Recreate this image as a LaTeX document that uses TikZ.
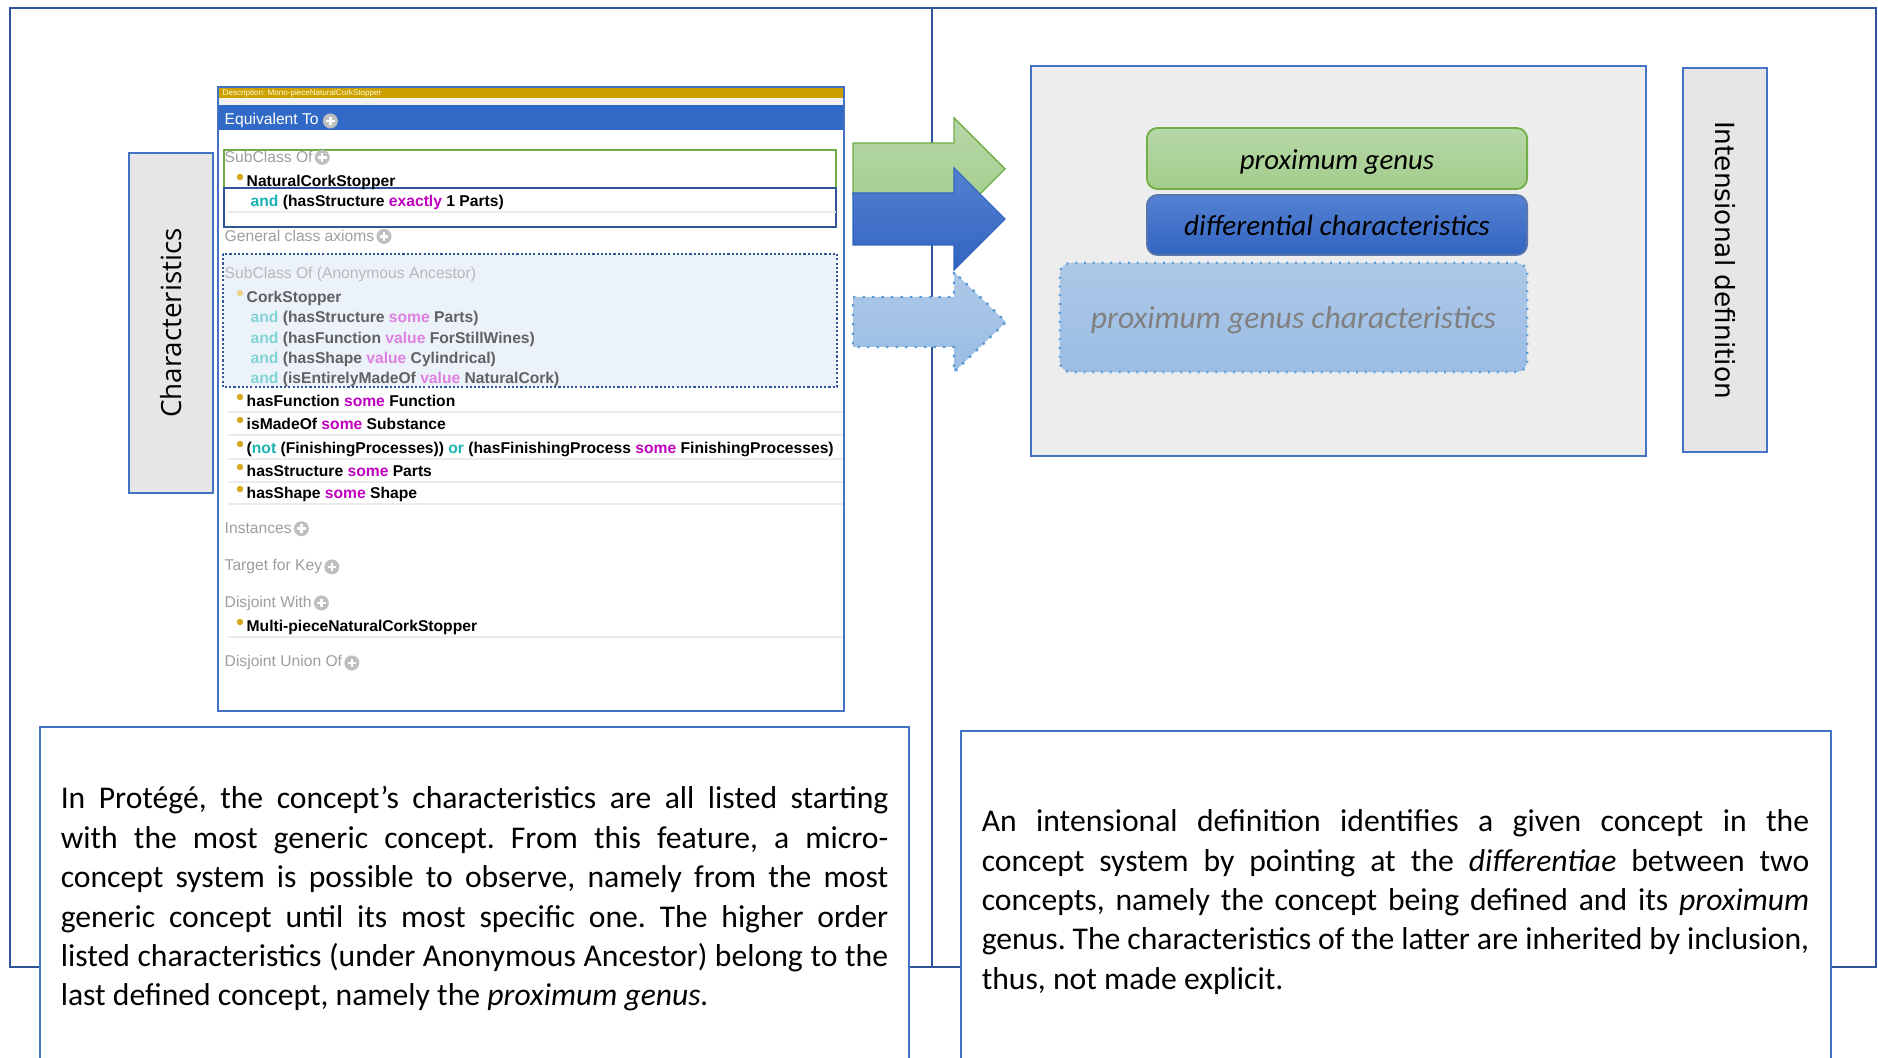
\documentclass[tikz,border=0pt]{standalone}
\usepackage{fontspec}
\setmainfont{Carlito}
\newfontfamily\owlfont{Liberation Sans}
\newfontfamily\lblfont{Open Sans}
\newfontfamily\deffont{DejaVu Sans}
\usetikzlibrary{calc}
\frenchspacing
\definecolor{figNavy}{RGB}{47,85,151}
\definecolor{figBlue}{RGB}{68,114,196}
\definecolor{figGreen}{RGB}{112,173,71}
\definecolor{figGold}{RGB}{204,160,0}
\definecolor{figBar}{RGB}{49,105,198}
\definecolor{figGrey}{RGB}{231,230,230}
\definecolor{figPanel}{RGB}{237,237,237}
\definecolor{figDots}{RGB}{91,155,213}
\definecolor{ancFill}{RGB}{235,242,250}
\definecolor{owlMag}{RGB}{192,0,192}
\definecolor{owlTeal}{RGB}{27,178,178}
\definecolor{owlDot}{RGB}{214,165,24}
\definecolor{arrG1}{RGB}{182,215,168}
\definecolor{arrG2}{RGB}{163,205,138}
\definecolor{arrB1}{RGB}{84,129,210}
\definecolor{arrB2}{RGB}{50,100,192}
\definecolor{arrL1}{RGB}{173,200,232}
\definecolor{arrL2}{RGB}{154,189,228}
\newcommand{\owlkw}[1]{\textcolor{owlMag}{#1}}
\newcommand{\owlop}[1]{\textcolor{owlTeal}{#1}}
\newcommand{\owlkwd}[1]{\textcolor{owlMag!50}{#1}}
\newcommand{\owlopd}[1]{\textcolor{owlTeal!55}{#1}}

\begin{document}
\begin{tikzpicture}[x=0.01cm,y=-0.01cm,
  owl/.style={anchor=base west,inner sep=0pt,font={\owlfont\fontsize{4.45}{5}\selectfont}},
  owlb/.style={owl,font={\owlfont\bfseries\fontsize{4.45}{5}\selectfont}},
  owlsec/.style={owl,text=black!38},
  owlrule/.style={black!8,line width=0.3pt},
  sidebox/.style={draw=figBlue,fill=figGrey,line width=0.6pt,inner sep=0pt},
  pillbox/.style={rounded corners=3pt,line width=0.5pt,inner sep=0pt},
  bodytext/.style={text width=8.27cm,align=justify,inner sep=0pt,font={\fontsize{9}{11.2}\selectfont}},
  plusicon/.pic={\fill[black!25] (0,0) circle (7.5);
    \draw[white,line width=0.7pt] (-4.3,0)--(4.3,0) (0,-4.3)--(0,4.3);}]
\useasboundingbox (0,0) rectangle (1878,1058);
\clip (0,0) rectangle (1878,1058);
% outer frames
\draw[figNavy,line width=0.6pt] (10,8) rectangle (932,967);
\draw[figNavy,line width=0.6pt] (932,8) rectangle (1876,967);
% side labels
\node[sidebox,rotate=90,minimum width=3.4cm,minimum height=0.84cm,
  font={\lblfont\fontsize{7.9}{9}\selectfont}] (charbox) at (171,323) {Characteristics};
\node[sidebox,rotate=-90,minimum width=3.84cm,minimum height=0.84cm,
  font={\deffont\fontsize{7.5}{9}\selectfont}] (defbox) at (1725,260) {Intensional definition};
% block arrows
\draw[figGreen,line width=0.4pt,top color=arrG1,bottom color=arrG2]
  (853,143) -- (954,143) -- (954,118) -- (1005,169) -- (954,220) -- (954,195) -- (853,195) -- cycle;
\draw[arrB2,line width=0.3pt,top color=arrB1,bottom color=arrB2]
  (853,193) -- (954,193) -- (954,168) -- (1005,219) -- (954,270) -- (954,245) -- (853,245) -- cycle;
\draw[figDots,line width=0.7pt,dotted,top color=arrL1,bottom color=arrL2]
  (853,297) -- (954,297) -- (954,272) -- (1006,322) -- (954,372) -- (954,347) -- (853,347) -- cycle;
% definition panel
\node[draw=figBlue,fill=figPanel,line width=0.7pt,minimum width=6.15cm,minimum height=3.9cm] (defpanel) at (1338.5,261) {};
\node[pillbox,draw=figGreen,top color=arrG1,bottom color=arrG2,minimum width=3.8cm,minimum height=0.61cm,
  text height=6.2pt,text depth=0pt,font={\itshape\fontsize{8.2}{9}\selectfont}] (genus) at (1337,158.5) {proximum genus};
\node[pillbox,draw=figNavy!80,top color=arrB1,bottom color=arrB2,minimum width=3.8cm,minimum height=0.6cm,
  font={\itshape\fontsize{8.3}{9}\selectfont}] (diff) at (1337,225) {differential characteristics};
\node[pillbox,draw=figDots,dotted,line width=0.7pt,top color=arrL1,bottom color=arrL2,minimum width=4.67cm,minimum height=1.09cm,
  text height=6.1pt,text depth=0pt,text=black!50,font={\itshape\fontsize{9}{10}\selectfont}] (genuschar) at (1293.5,317.5) {proximum genus characteristics};
% Protege panel
\fill[white] (218,87) rectangle (844,711);
\fill[figGold] (219,88) rectangle (843,98);
\fill[black!5] (219,98) rectangle (843,105);
\fill[figBar] (219,105) rectangle (843,130);
\node[owl,font={\owlfont\fontsize{2.3}{3}\selectfont},text=yellow!15] (descr) at (222,96) {Description: Mono-pieceNaturalCorkStopper};
\node[owl,text=white] (equiv) at (224,125) {Equivalent To};
\path (equiv.east) ++(11,0) pic {plusicon};
\draw[figNavy,fill=ancFill,line width=0.6pt,dash pattern=on 0.6pt off 0.6pt] (223,254) rectangle (837,387);
\draw[figGreen,line width=0.7pt] (224,150) rectangle (836,188);
\draw[figNavy,line width=0.7pt] (224,188) rectangle (836,227);
\node[owlsec] (subcl) at (224,163) {SubClass Of};
\path (subcl.east) ++(9,0) pic {plusicon};
\node[owlb] (ncs) at (246,187) {NaturalCorkStopper};
\node[owlb] (ncsand) at (250,207) {\owlop{and} (hasStructure \owlkw{exactly} 1 Parts)};
\draw[owlrule] (228,212) -- (836,212);
\node[owlsec] (gca) at (224,242) {General class axioms};
\path (gca.east) ++(9,0) pic {plusicon};
% anonymous ancestor
\node[owl,text=black!28] (anc) at (224,279) {SubClass Of (Anonymous Ancestor)};
\node[owlb,text=black!62] (cork) at (246,303) {CorkStopper};
\node[owlb,text=black!62] (anc1) at (250,323) {\owlopd{and} (hasStructure \owlkwd{some} Parts)};
\node[owlb,text=black!62] (anc2) at (250,344) {\owlopd{and} (hasFunction \owlkwd{value} ForStillWines)};
\node[owlb,text=black!62] (anc3) at (250,364) {\owlopd{and} (hasShape \owlkwd{value} Cylindrical)};
\node[owlb,text=black!62] (anc4) at (250,384) {\owlopd{and} (isEntirelyMadeOf \owlkwd{value} NaturalCork)};
% own superclasses
\node[owlb] (fun) at (246,407) {hasFunction \owlkw{some} Function};
\node[owlb] (made) at (246,430) {isMadeOf \owlkw{some} Substance};
\node[owlb] (fin) at (246,454) {(\owlop{not} (FinishingProcesses)) \owlop{or} (hasFinishingProcess \owlkw{some} FinishingProcesses)};
\node[owlb] (str) at (246,477) {hasStructure \owlkw{some} Parts};
\node[owlb] (shp) at (246,499) {hasShape \owlkw{some} Shape};
\draw[owlrule] (228,412) -- (843,412);
\draw[owlrule] (228,435) -- (843,435);
\draw[owlrule] (228,459) -- (843,459);
\draw[owlrule] (228,482) -- (843,482);
\draw[owlrule] (228,504) -- (843,504);
\node[owlsec] (inst) at (224,534) {Instances};
\path (inst.east) ++(9,0) pic {plusicon};
\node[owlsec] (tkey) at (224,571) {Target for Key};
\path (tkey.east) ++(9,0) pic {plusicon};
\node[owlsec] (disj) at (224,607) {Disjoint With};
\path (disj.east) ++(9,0) pic {plusicon};
\node[owlb] (multi) at (246,632) {Multi-pieceNaturalCorkStopper};
\draw[owlrule] (228,637) -- (843,637);
\node[owlsec] (disju) at (224,667) {Disjoint Union Of};
\path (disju.east) ++(9,0) pic {plusicon};
% bullets
\fill[owlDot] ($(ncs.base west)+(-6,-10)$) circle (3.2);
\fill[owlDot!50] ($(cork.base west)+(-6,-10)$) circle (3.2);
\fill[owlDot] ($(fun.base west)+(-6,-10)$) circle (3.2);
\fill[owlDot] ($(made.base west)+(-6,-10)$) circle (3.2);
\fill[owlDot] ($(fin.base west)+(-6,-10)$) circle (3.2);
\fill[owlDot] ($(str.base west)+(-6,-10)$) circle (3.2);
\fill[owlDot] ($(shp.base west)+(-6,-10)$) circle (3.2);
\fill[owlDot] ($(multi.base west)+(-6,-10)$) circle (3.2);
\draw[figBlue,line width=0.7pt] (218,87) rectangle (844,711);
% text boxes
\draw[figBlue,line width=0.6pt,fill=white] (40,727) rectangle (909,1070);
\draw[figBlue,line width=0.6pt,fill=white] (961,731) rectangle (1831,1070);
\node[bodytext] (lefttext) at (474.5,899) {In Protégé, the concept’s characteristics are all listed starting\linebreak
  with the most generic concept. From this feature, a micro-\linebreak
  concept system is possible to observe, namely from the most\linebreak
  generic concept until its most specific one. The higher order\linebreak
  listed characteristics (under Anonymous Ancestor) belong to the\linebreak
  last defined concept, namely the \textit{proximum genus.}};
\node[bodytext] (righttext) at (1395.5,902) {An intensional definition identifies a given concept in the\linebreak
  concept system by pointing at the \textit{differentiae} between two\linebreak
  concepts, namely the concept being defined and its \textit{proximum}\linebreak
  genus. The characteristics of the latter are inherited by inclusion,\linebreak
  thus, not made explicit.};
\end{tikzpicture}
\end{document}
